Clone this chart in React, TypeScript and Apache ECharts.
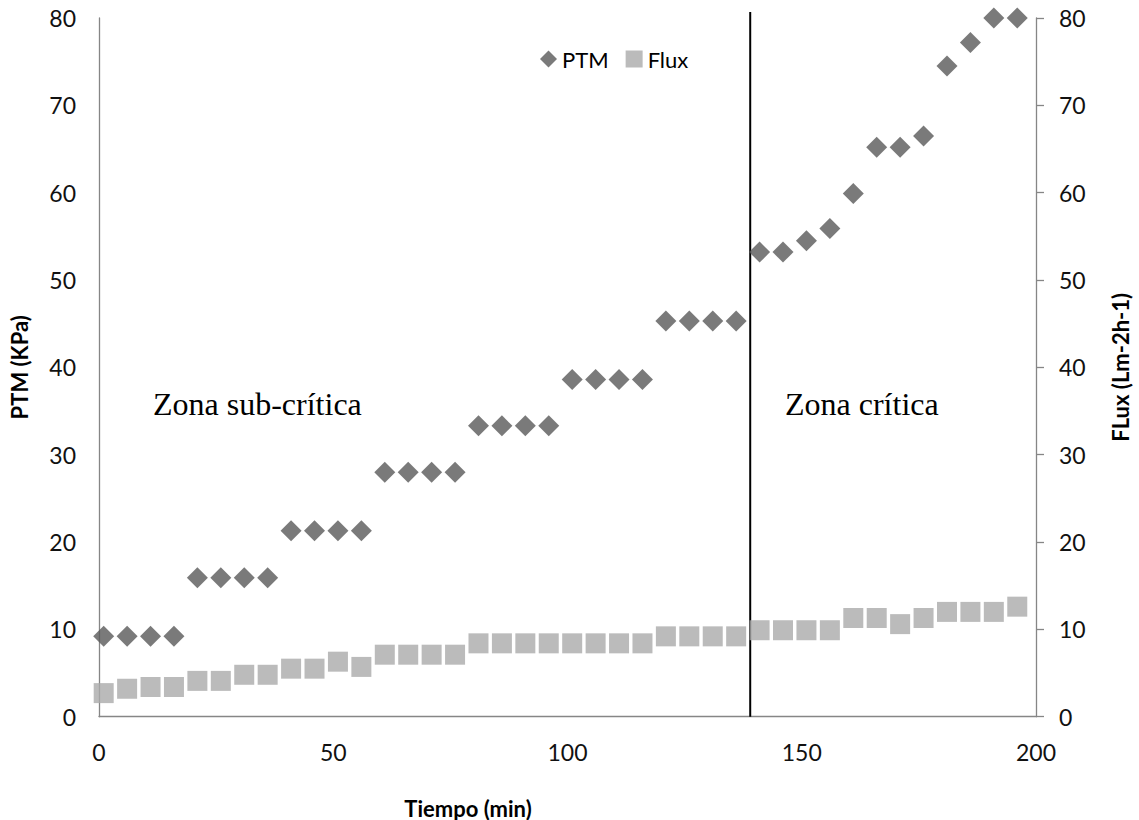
import React, { useEffect, useRef } from "react";
import * as echarts from "echarts";

const times = [1, 6, 11, 16, 21, 26, 31, 36, 41, 46, 51, 56, 61, 66, 71, 76, 81, 86, 91, 96, 101, 106, 111, 116, 121, 126, 131, 136, 141, 146, 151, 156, 161, 166, 171, 176, 181, 186, 191, 196];
const ptm = [9.2, 9.2, 9.2, 9.2, 15.9, 15.9, 15.9, 15.9, 21.3, 21.3, 21.3, 21.3, 28, 28, 28, 28, 33.3, 33.3, 33.3, 33.3, 38.6, 38.6, 38.6, 38.6, 45.3, 45.3, 45.3, 45.3, 53.2, 53.2, 54.5, 55.9, 59.9, 65.2, 65.2, 66.5, 74.5, 77.2, 80, 80];
const flux = [2.7, 3.2, 3.4, 3.4, 4.1, 4.1, 4.8, 4.8, 5.5, 5.5, 6.3, 5.7, 7.1, 7.1, 7.1, 7.1, 8.4, 8.4, 8.4, 8.4, 8.4, 8.4, 8.4, 8.4, 9.2, 9.2, 9.2, 9.2, 9.9, 9.9, 9.9, 9.9, 11.3, 11.3, 10.6, 11.3, 12, 12, 12, 12.6];
const boundaryX = [139, 139];
const boundaryY = [0, 80.7];
const xTitle = "Tiempo (min)";
const leftTitle = "PTM (KPa)";
const rightTitle = "FLux (Lm-2h-1)";
const zoneLabels = ["Zona sub-crítica", "Zona crítica"];

export default function App() {
  const ref = useRef<HTMLDivElement>(null);
  useEffect(() => {
    if (!ref.current) return;
    const chart = echarts.init(ref.current, undefined, { renderer: "svg" });
    const font = "Lato";
    const axisColor = "#868686";
    chart.setOption({
      animation: false,
      backgroundColor: "#ffffff",
      legend: {
        left: 535,
        top: 43,
        itemWidth: 17,
        itemHeight: 17,
        itemGap: 17,
        textStyle: { fontFamily: font, fontSize: 22, color: "#000" },
        data: [
          { name: "PTM", icon: "diamond" },
          { name: "Flux", icon: "rect" },
        ],
      },
      grid: { left: 91.5, right: 89, top: 18, bottom: 103.3, containLabel: false },
      xAxis: {
        type: "value",
        min: 0,
        max: 200,
        interval: 50,
        axisLine: { show: true, lineStyle: { color: axisColor, width: 1.3 } },
        axisTick: { show: false },
        splitLine: { show: false },
        axisLabel: { margin: 24, fontFamily: font, fontSize: 23, color: "#111" },
      },
      yAxis: [
        {
          type: "value",
          min: 0,
          max: 80,
          interval: 10,
          name: leftTitle,
          nameLocation: "middle",
          nameGap: 69,
          nameTextStyle: { fontFamily: font, fontSize: 22, fontWeight: "bold", color: "#000" },
          axisLine: { show: true, lineStyle: { color: axisColor, width: 1.3 } },
          axisTick: { show: false },
          splitLine: { show: false },
          axisLabel: { margin: 23, fontFamily: font, fontSize: 23, color: "#111" },
        },
        {
          type: "value",
          min: 0,
          max: 80,
          interval: 10,
          position: "right",
          name: rightTitle,
          nameLocation: "middle",
          nameGap: 73,
          nameTextStyle: { fontFamily: font, fontSize: 22, fontWeight: "bold", color: "#000" },
          axisLine: { show: true, lineStyle: { color: axisColor, width: 1.3 } },
          axisTick: { show: true, inside: false, length: 8, lineStyle: { color: axisColor, width: 1.3 } },
          splitLine: { show: false },
          axisLabel: { margin: 23, fontFamily: font, fontSize: 23, color: "#111" },
        },
      ],
      series: [
        {
          name: "boundary",
          type: "line",
          yAxisIndex: 0,
          clip: false,
          silent: true,
          symbol: "none",
          lineStyle: { color: "#000", width: 2 },
          data: boundaryX.map((x, i) => [x, boundaryY[i]]),
          z: 1,
        },
        {
          name: "Flux",
          type: "scatter",
          yAxisIndex: 1,
          symbol: "rect",
          symbolSize: 20,
          itemStyle: { color: "#aaaaaa" },
          data: times.map((t, i) => [t, flux[i]]),
          z: 2,
        },
        {
          name: "PTM",
          type: "scatter",
          yAxisIndex: 0,
          symbol: "diamond",
          symbolSize: 21,
          itemStyle: { color: "#595959" },
          data: times.map((t, i) => [t, ptm[i]]),
          z: 3,
        },
      ],
      graphic: [
        {
          type: "text",
          x: 468,
          y: 808,
          style: { text: xTitle, textAlign: "center", textVerticalAlign: "middle", fontFamily: font, fontSize: 22, fontWeight: "bold", fill: "#000" },
        },
        {
          type: "text",
          x: 153,
          y: 404,
          style: { text: zoneLabels[0], textAlign: "left", textVerticalAlign: "middle", fontFamily: "Liberation Serif", fontSize: 32, fill: "#000" },
        },
        {
          type: "text",
          x: 785,
          y: 404,
          style: { text: zoneLabels[1], textAlign: "left", textVerticalAlign: "middle", fontFamily: "Liberation Serif", fontSize: 32, fill: "#000" },
        },
      ],
    });
    return () => chart.dispose();
  }, []);
  return <div ref={ref} style={{ position: "fixed", left: 0, top: 0, width: 1139, height: 820 }} />;
}
